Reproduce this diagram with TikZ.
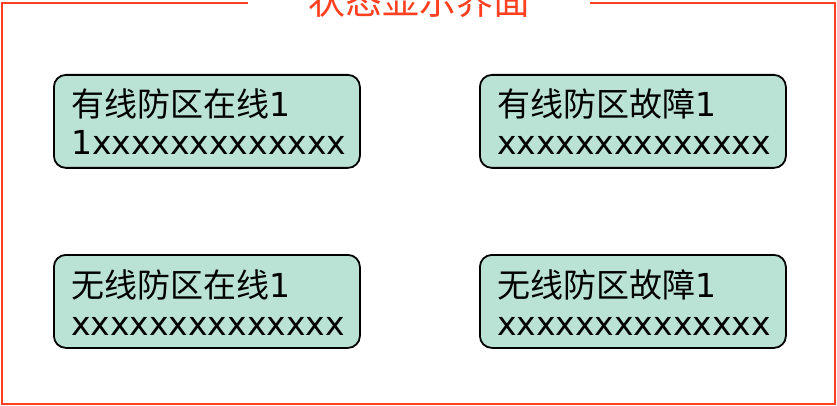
\documentclass[tikz,border=0pt]{standalone}
\usepackage{fontspec}
\setmainfont{DejaVu Sans}
\newfontfamily\cjk{Noto Sans CJK SC}
\usetikzlibrary{calc}
\definecolor{frameorange}{HTML}{FF4020}
\definecolor{mint}{HTML}{BAE3D5}
\begin{document}
\begin{tikzpicture}[x=1pt,y=-1pt,
  panel/.style={draw=black, line width=1.8pt, fill=mint, rounded corners=12pt,
    minimum width=306pt, minimum height=93pt, inner sep=0pt, anchor=north west},
  txt/.style={anchor=base west, inner sep=0pt, font=\fontsize{33}{38}\selectfont},
  frameline/.style={draw=frameorange, line width=2.4pt},
  titletxt/.style={anchor=base, inner sep=0pt, text=frameorange, font=\cjk\fontsize{37}{40}\selectfont}]
\useasboundingbox (0,0) rectangle (837,406);
\clip (0,0) rectangle (837,406);
% frame
\coordinate (gl) at (248,3);
\coordinate (tl) at (2,3);
\coordinate (bl) at (2,404);
\coordinate (br) at (835,404);
\coordinate (tr) at (835,3);
\coordinate (gr) at (590,3);
\draw[frameline] (gl) -- (tl) -- (bl) -- (br) -- (tr) -- (gr);
\node[titletxt] (title) at (419,15) {状态显示界面};
% panels
\node[panel] (b1) at (53,74) {};
\node[panel] (b2) at (479,74) {};
\node[panel] (b3) at (53,254) {};
\node[panel] (b4) at (479,254) {};
% texts
\node[txt] (b1a) at ($(b1.north west)+(18,43)$) {{\cjk 有线防区在线}1};
\node[txt] (b1b) at ($(b1.north west)+(18,81)$) {1xxxxxxxxxxxxx};
\node[txt] (b2a) at ($(b2.north west)+(18,43)$) {{\cjk 有线防区故障}1};
\node[txt] (b2b) at ($(b2.north west)+(18,81)$) {xxxxxxxxxxxxxx};
\node[txt] (b3a) at ($(b3.north west)+(18,43)$) {{\cjk 无线防区在线}1};
\node[txt] (b3b) at ($(b3.north west)+(18,81)$) {xxxxxxxxxxxxxx};
\node[txt] (b4a) at ($(b4.north west)+(18,43)$) {{\cjk 无线防区故障}1};
\node[txt] (b4b) at ($(b4.north west)+(18,81)$) {xxxxxxxxxxxxxx};
\end{tikzpicture}
\end{document}
